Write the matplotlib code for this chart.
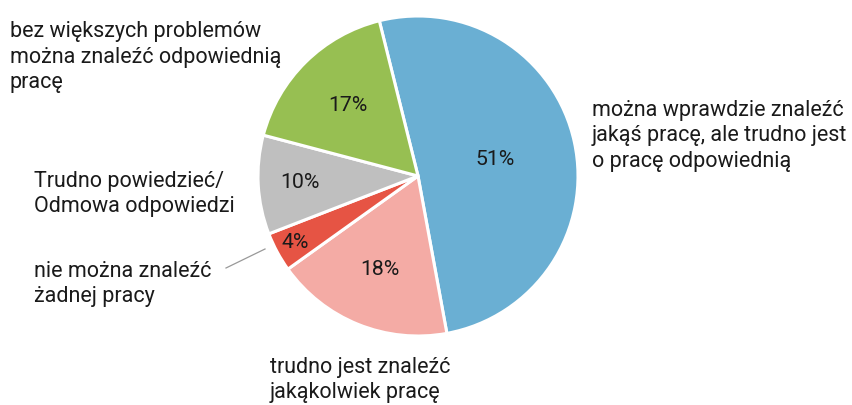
import matplotlib
matplotlib.use("Agg")
import matplotlib.pyplot as plt
import numpy as np

plt.rcParams['font.family'] = ['Roboto', 'DejaVu Sans']

# dane
values = [51, 18, 4, 10, 17]
colors = ['#6aafd3', '#f4aba5', '#e65444', '#bfbfbf', '#97bf52']
pct_dist = [0.49, 0.63, 0.87, 0.74, 0.62]
labels = [
    'można wprawdzie znaleźć\njakąś pracę, ale trudno jest\no pracę odpowiednią',
    'trudno jest znaleźć\njakąkolwiek pracę',
    'nie można znaleźć\nżadnej pracy',
    'Trudno powiedzieć/\nOdmowa odpowiedzi',
    'bez większych problemów\nmożna znaleźć odpowiednią\npracę',
]
label_pos = [(592, 136), (270, 380), (34, 284), (34, 194), (10, 57)]

W, H = 853, 405
fig = plt.figure(figsize=(W / 100, H / 100), dpi=100)
cx, cy, r = 418, 176, 160
ax = fig.add_axes([(cx - r) / W, (H - cy - r) / H, 2 * r / W, 2 * r / H])

wedges, texts, autotexts = ax.pie(values, colors=colors, startangle=104, counterclock=False,
                                  autopct='%d%%', pctdistance=0.6,
                                  wedgeprops=dict(edgecolor='white', linewidth=2.2),
                                  textprops=dict(fontsize=15.3, color='#1a1a1a'))
ax.set_aspect('equal')
ax.set_xlim(-1, 1)
ax.set_ylim(-1, 1)

for w, t, d in zip(wedges, autotexts, pct_dist):
    ang = np.deg2rad((w.theta1 + w.theta2) / 2)
    t.set_position((d * np.cos(ang), d * np.sin(ang)))
    t.set_ha('center')
    t.set_va('center')

for lab, (x, y) in zip(labels, label_pos):
    fig.text(x / W, 1 - y / H, lab, ha='left', va='center', fontsize=15.5,
             color='#1a1a1a', linespacing=1.27)

# linia do 4%
fig.add_artist(plt.Line2D([226 / W, 265 / W], [1 - 268 / H, 1 - 249 / H],
                          color='#999999', linewidth=0.9))

fig.savefig('out.png', dpi=100)
